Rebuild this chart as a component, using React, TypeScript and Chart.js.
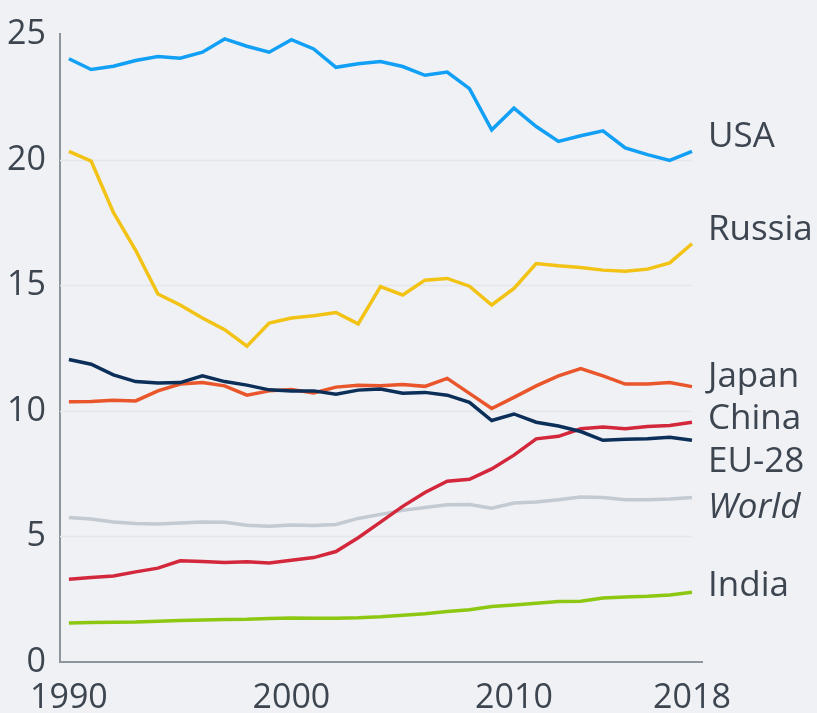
import { useEffect, useRef } from "react";
import { Chart, registerables } from "chart.js";

Chart.register(...registerables);

const years = [
  1990, 1991, 1992, 1993, 1994, 1995, 1996, 1997, 1998, 1999, 2000, 2001, 2002, 2003, 2004,
  2005, 2006, 2007, 2008, 2009, 2010, 2011, 2012, 2013, 2014, 2015, 2016, 2017, 2018,
];

const usa = [
  24.03, 23.6, 23.73, 23.96, 24.12, 24.05, 24.29, 24.82, 24.53, 24.29, 24.79, 24.42, 23.69, 23.83,
  23.92, 23.72, 23.37, 23.5, 22.84, 21.2, 22.06, 21.33, 20.74, 20.96, 21.16, 20.48, 20.21, 19.98, 20.34,
];
const russia = [
  20.34, 19.95, 17.91, 16.4, 14.66, 14.22, 13.7, 13.24, 12.58, 13.5, 13.7, 13.79, 13.92, 13.47,
  14.95, 14.62, 15.21, 15.28, 14.97, 14.22, 14.88, 15.87, 15.78, 15.71, 15.61, 15.57, 15.65, 15.9, 16.66,
];
const japan = [
  10.37, 10.38, 10.43, 10.4, 10.8, 11.07, 11.13, 11.0, 10.63, 10.8, 10.85, 10.72, 10.95, 11.02,
  11.0, 11.05, 10.98, 11.3, 10.7, 10.1, 10.54, 11.0, 11.4, 11.69, 11.4, 11.07, 11.07, 11.13, 10.97,
];
const eu28 = [
  12.05, 11.86, 11.44, 11.17, 11.11, 11.13, 11.4, 11.17, 11.03, 10.84, 10.8, 10.8, 10.67, 10.83,
  10.87, 10.71, 10.74, 10.63, 10.34, 9.62, 9.88, 9.55, 9.4, 9.18, 8.83, 8.87, 8.89, 8.95, 8.83,
];
const china = [
  3.3, 3.37, 3.43, 3.59, 3.74, 4.03, 4.0, 3.96, 3.99, 3.94, 4.05, 4.16, 4.4, 4.95, 5.57, 6.2, 6.75,
  7.2, 7.28, 7.69, 8.24, 8.89, 8.99, 9.29, 9.36, 9.29, 9.38, 9.42, 9.55,
];
const world = [
  5.76, 5.7, 5.58, 5.52, 5.5, 5.54, 5.58, 5.57, 5.45, 5.41, 5.46, 5.44, 5.48, 5.72, 5.88, 6.04,
  6.15, 6.26, 6.27, 6.13, 6.33, 6.37, 6.46, 6.57, 6.55, 6.46, 6.46, 6.49, 6.55,
];
const india = [
  1.55, 1.57, 1.58, 1.59, 1.62, 1.65, 1.67, 1.69, 1.7, 1.73, 1.75, 1.74, 1.74, 1.76, 1.8, 1.86,
  1.92, 2.01, 2.08, 2.21, 2.27, 2.34, 2.41, 2.42, 2.55, 2.59, 2.62, 2.67, 2.78,
];

const xTicks = [1990, 2000, 2010, 2018];
const yTicks = [0, 5, 10, 15, 20, 25];
const gridValues = [5, 10, 15, 20];

// series drawn in this order: first one ends up on top
const seriesNames = ["EU-28", "China", "Japan", "USA", "Russia", "World", "India"];
const seriesData = [eu28, china, japan, usa, russia, world, india];
const seriesColors = ["#0c2f5a", "#d3283c", "#e9562b", "#12a0f7", "#f2c215", "#c3cad2", "#8cc811"];
// value at which each end label's text baseline sits
const labelBaselines = [7.55, 9.3, 10.97, 20.5, 16.8, 5.72, 2.62];

const BG = "#eff1f4";
const TEXT = "#3c4550";
const AXIS = "#8e959d";
const FONT = "'Open Sans', 'Noto Sans', sans-serif";

const deco = {
  id: "deco",
  beforeDraw(chart: any) {
    const { ctx, width, height } = chart;
    ctx.save();
    ctx.fillStyle = BG;
    ctx.fillRect(0, 0, width, height);
    ctx.restore();
  },
  beforeDatasetsDraw(chart: any) {
    const { ctx } = chart;
    const xs = chart.scales.x;
    const ys = chart.scales.y;
    const x0 = chart.chartArea.left;
    const x1 = xs.getPixelForValue(years[years.length - 1]);
    ctx.save();
    ctx.strokeStyle = "#e3e6ea";
    ctx.lineWidth = 1.5;
    gridValues.forEach((v) => {
      const y = Math.round(ys.getPixelForValue(v)) + 0.5;
      ctx.beginPath();
      ctx.moveTo(x0, y);
      ctx.lineTo(x1, y);
      ctx.stroke();
    });
    ctx.restore();
  },
  afterDatasetsDraw(chart: any) {
    const { ctx } = chart;
    const xs = chart.scales.x;
    const ys = chart.scales.y;
    const x = xs.getPixelForValue(years[years.length - 1]) + 16;
    ctx.save();
    ctx.fillStyle = TEXT;
    ctx.textAlign = "left";
    ctx.textBaseline = "alphabetic";
    seriesNames.forEach((name, i) => {
      ctx.font = (name === "World" ? "italic " : "") + "35px " + FONT;
      ctx.fillText(name, x, ys.getPixelForValue(labelBaselines[i]));
    });
    ctx.restore();
  },
};

export default function App() {
  const ref = useRef<HTMLCanvasElement | null>(null);

  useEffect(() => {
    if (!ref.current) return;
    Chart.defaults.font.family = FONT;
    const chart = new Chart(ref.current, {
      type: "line",
      data: {
        datasets: seriesNames.map((name, i) => ({
          label: name,
          data: years.map((yr, j) => ({ x: yr, y: seriesData[i][j] })),
          borderColor: seriesColors[i],
          backgroundColor: seriesColors[i],
          borderWidth: 3.5,
          pointRadius: 0,
          tension: 0,
          fill: false,
        })),
      },
      options: {
        animation: false,
        responsive: true,
        maintainAspectRatio: false,
        layout: { padding: { top: 28, right: 115, left: 0, bottom: 0 } },
        plugins: {
          legend: { display: false },
          tooltip: { enabled: false },
        },
        scales: {
          x: {
            type: "linear",
            min: 1989.6,
            max: 2018.45,
            afterBuildTicks: (s: any) => {
              s.ticks = xTicks.map((v) => ({ value: v }));
            },
            afterFit: (s: any) => {
              s.height = 51;
            },
            grid: { display: false, drawTicks: false },
            border: { display: true, color: AXIS, width: 2 },
            ticks: {
              color: TEXT,
              font: { size: 34, family: FONT },
              padding: 16,
              maxRotation: 0,
              autoSkip: false,
              callback: (v: any) => String(v),
            },
          },
          y: {
            min: 0,
            max: 25,
            afterBuildTicks: (s: any) => {
              s.ticks = yTicks.map((v) => ({ value: v }));
            },
            afterFit: (s: any) => {
              s.width = 60;
            },
            grid: { display: false, drawTicks: false },
            border: { display: true, color: AXIS, width: 2 },
            ticks: {
              color: TEXT,
              font: { size: 34, family: FONT },
              padding: 14,
              callback: (v: any) => String(v),
            },
          },
        },
      },
      plugins: [deco],
    });
    return () => chart.destroy();
  }, []);

  return (
    <div
      style={{
        position: "absolute",
        left: 0,
        top: 0,
        width: 817,
        height: 713,
        background: BG,
      }}
    >
      <canvas ref={ref} />
    </div>
  );
}
